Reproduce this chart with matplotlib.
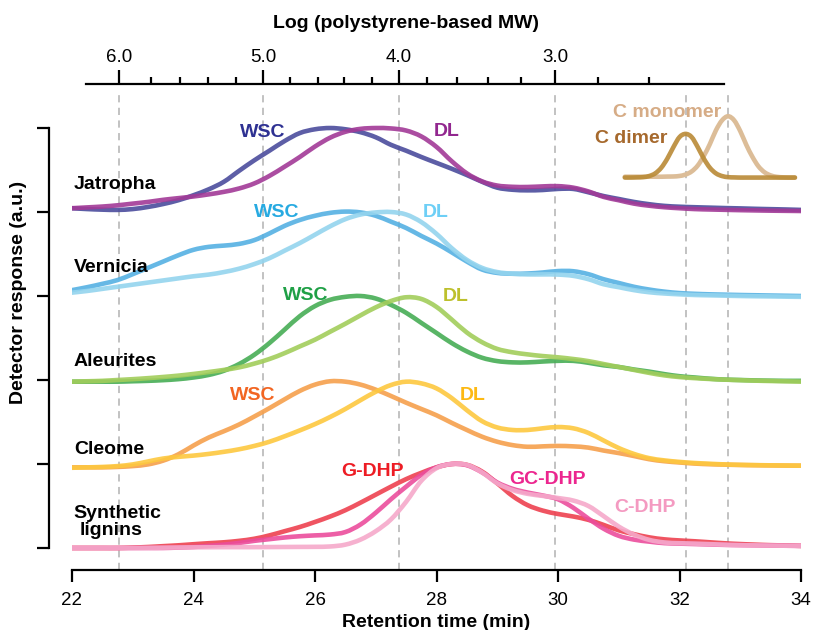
import matplotlib
matplotlib.use("Agg")
import matplotlib.pyplot as plt
from matplotlib.path import Path
from matplotlib.patches import PathPatch
import numpy as np

plt.rcParams["font.family"] = ["Liberation Sans", "DejaVu Sans"]

# retention time grid (min), 22 -> 34 every 0.25 min
t = np.arange(22.0, 34.001, 0.25)

# normalised detector traces
jat_wsc = [0.045, 0.035, 0.028, 0.025, 0.035, 0.06, 0.095, 0.14, 0.20, 0.27, 0.36, 0.49, 0.615,
           0.73, 0.845, 0.94, 0.985, 1.0, 0.985, 0.95, 0.89, 0.80, 0.73, 0.655, 0.585, 0.515, 0.44,
           0.36, 0.29, 0.265, 0.258, 0.262, 0.275, 0.275, 0.235, 0.19, 0.155, 0.12, 0.093, 0.073,
           0.063, 0.057, 0.052, 0.047, 0.043, 0.038, 0.034, 0.03, 0.025]
jat_dl = [0.045, 0.055, 0.065, 0.08, 0.10, 0.12, 0.145, 0.165, 0.185, 0.21, 0.24, 0.28, 0.34,
          0.43, 0.54, 0.655, 0.78, 0.885, 0.955, 0.99, 1.0, 0.995, 0.97, 0.9, 0.775, 0.605, 0.46,
          0.365, 0.315, 0.30, 0.298, 0.305, 0.308, 0.29, 0.245, 0.18, 0.14, 0.10, 0.075, 0.057,
          0.045, 0.035, 0.03, 0.026, 0.022, 0.019, 0.016, 0.014, 0.012]
ver_wsc = [0.07, 0.105, 0.145, 0.19, 0.26, 0.335, 0.41, 0.485, 0.55, 0.585, 0.60, 0.62, 0.665,
           0.745, 0.835, 0.905, 0.955, 0.99, 1.005, 0.995, 0.955, 0.885, 0.81, 0.715, 0.625, 0.52,
           0.41, 0.315, 0.275, 0.265, 0.268, 0.28, 0.297, 0.295, 0.26, 0.20, 0.155, 0.11, 0.077,
           0.052, 0.035, 0.026, 0.02, 0.016, 0.012, 0.009, 0.006, 0.003, 0.0]
ver_dl = [0.04, 0.06, 0.085, 0.11, 0.135, 0.16, 0.185, 0.21, 0.235, 0.255, 0.285, 0.325, 0.38,
          0.45, 0.54, 0.63, 0.73, 0.83, 0.915, 0.97, 0.995, 1.0, 0.97, 0.88, 0.74, 0.57, 0.43,
          0.335, 0.285, 0.265, 0.257, 0.257, 0.255, 0.24, 0.20, 0.14, 0.105, 0.07, 0.045, 0.03,
          0.02, 0.012, 0.008, 0.004, 0.0, -0.003, -0.005, -0.008, -0.01]
ale_wsc = [-0.02, -0.02, -0.02, -0.02, -0.015, -0.01, -0.002, 0.01, 0.03, 0.06, 0.11, 0.19, 0.30,
           0.44, 0.60, 0.76, 0.88, 0.955, 0.99, 1.0, 0.97, 0.895, 0.80, 0.68, 0.56, 0.44, 0.34,
           0.265, 0.225, 0.21, 0.21, 0.22, 0.228, 0.228, 0.205, 0.175, 0.155, 0.125, 0.10, 0.07,
           0.045, 0.03, 0.015, 0.005, 0.0, -0.005, -0.008, -0.01, -0.01]
ale_dl = [-0.02, -0.015, -0.01, 0.0, 0.01, 0.022, 0.036, 0.052, 0.072, 0.095, 0.12, 0.15, 0.195,
          0.25, 0.32, 0.40, 0.48, 0.575, 0.67, 0.77, 0.865, 0.94, 0.985, 0.965, 0.87, 0.72, 0.565,
          0.45, 0.37, 0.33, 0.305, 0.285, 0.27, 0.25, 0.225, 0.19, 0.155, 0.12, 0.085, 0.055,
          0.035, 0.022, 0.012, 0.004, -0.002, -0.008, -0.012, -0.016, -0.02]
cle_wsc = [-0.04, -0.04, -0.04, -0.035, -0.025, -0.005, 0.04, 0.115, 0.22, 0.315, 0.39, 0.47,
           0.565, 0.665, 0.77, 0.87, 0.945, 0.985, 0.98, 0.945, 0.885, 0.81, 0.73, 0.655, 0.58,
           0.49, 0.405, 0.325, 0.265, 0.225, 0.205, 0.21, 0.215, 0.21, 0.195, 0.16, 0.13, 0.095,
           0.057, 0.033, 0.018, 0.005, -0.003, -0.008, -0.012, -0.015, -0.017, -0.019, -0.02]
cle_dl = [-0.045, -0.04, -0.035, -0.025, -0.005, 0.03, 0.065, 0.085, 0.10, 0.12, 0.145, 0.175,
          0.215, 0.265, 0.33, 0.40, 0.475, 0.56, 0.655, 0.76, 0.86, 0.94, 0.98, 0.96, 0.9,
          0.785, 0.64, 0.51, 0.435, 0.405, 0.405, 0.425, 0.44, 0.425, 0.37, 0.28, 0.19, 0.12,
          0.07, 0.043, 0.025, 0.012, 0.003, -0.005, -0.01, -0.013, -0.016, -0.018, -0.02]
g_dhp = [0.0, 0.0, 0.0, 0.0, 0.005, 0.012, 0.022, 0.032, 0.045, 0.057, 0.068, 0.085, 0.11, 0.15,
         0.20, 0.25, 0.31, 0.375, 0.45, 0.54, 0.635, 0.73, 0.82, 0.895, 0.96, 1.0, 0.99, 0.91, 0.77,
         0.62, 0.51, 0.445, 0.405, 0.375, 0.335, 0.275, 0.21, 0.165, 0.127, 0.103, 0.09, 0.08,
         0.068, 0.056, 0.047, 0.04, 0.034, 0.03, 0.025]
gc_dhp = [0.0, 0.0, 0.0, 0.0, 0.0, 0.0, 0.0, 0.005, 0.012, 0.025, 0.04, 0.06, 0.085, 0.105, 0.125,
          0.14, 0.15, 0.16, 0.19, 0.28, 0.42, 0.58, 0.73, 0.87, 0.96, 1.0, 0.985, 0.90, 0.78, 0.705,
          0.66, 0.625, 0.58, 0.48, 0.35, 0.23, 0.145, 0.10, 0.076, 0.058, 0.052, 0.047, 0.042,
          0.037, 0.034, 0.031, 0.029, 0.027, 0.025]
c_dhp = [0.0, 0.0, 0.0, 0.0, 0.0, 0.002, 0.004, 0.006, 0.008, 0.009, 0.01, 0.01, 0.01, 0.011,
         0.012, 0.013, 0.014, 0.018, 0.04, 0.10, 0.20, 0.34, 0.55, 0.80, 0.95, 1.0, 0.99, 0.90,
         0.77, 0.69, 0.645, 0.62, 0.595, 0.565, 0.50, 0.38, 0.255, 0.16, 0.097, 0.066, 0.057,
         0.052, 0.046, 0.039, 0.034, 0.031, 0.029, 0.027, 0.025]

# model compounds (inset, absolute y units), 31.1 -> 33.9 every 0.1 min
t_c = np.arange(31.1, 33.901, 0.1)
c_dimer = [4.41, 4.41, 4.412, 4.415, 4.428, 4.46, 4.527, 4.636, 4.773, 4.892, 4.93, 4.892, 4.773,
           4.636, 4.527, 4.46, 4.428, 4.415, 4.412, 4.41, 4.41, 4.41, 4.41, 4.41, 4.41, 4.41,
           4.41, 4.41, 4.41]
c_monomer = [4.42, 4.42, 4.42, 4.42, 4.42, 4.42, 4.42, 4.422, 4.423, 4.429, 4.446, 4.483, 4.553,
             4.667, 4.809, 4.973, 5.091, 5.14, 5.091, 4.963, 4.799, 4.657, 4.543, 4.473, 4.436,
             4.419, 4.413, 4.41, 4.41]

# top axis: log MW calibration positions on the retention time scale
mw_major_t = [22.78, 25.15, 27.38, 29.95]
mw_major_lab = ["6.0", "5.0", "4.0", "3.0"]
mw_minor_t = [23.30, 23.78, 24.24, 24.70, 25.59, 26.05, 26.48, 26.94,
              27.84, 28.34, 28.85, 29.39, 30.66, 31.50]
ref_lines = [22.78, 25.15, 27.38, 29.95, 32.1, 32.8]

traces = [
    # (data, offset, line colour)
    (jat_wsc, 4, "#4B4C9D"), (jat_dl, 4, "#A23A97"),
    (ver_wsc, 3, "#55B1E3"), (ver_dl, 3, "#94D4EE"),
    (ale_wsc, 2, "#47AD55"), (ale_dl, 2, "#A2CD5B"),
    (cle_wsc, 1, "#F6A04C"), (cle_dl, 1, "#FDC83F"),
    (g_dhp, 0, "#EE4150"), (gc_dhp, 0, "#EB4D9C"), (c_dhp, 0, "#F5A9CA"),
]


def smooth_trace(ax, x, y, color, alpha=0.9):
    # draw a smooth curve through the points (Catmull-Rom as cubic Bezier)
    x = np.asarray(x, float)
    y = np.asarray(y, float)
    p = np.column_stack([x, y])
    ext = np.vstack([p[0], p, p[-1]])
    verts = [p[0]]
    codes = [Path.MOVETO]
    for i in range(len(p) - 1):
        p0, p1, p2, p3 = ext[i], ext[i + 1], ext[i + 2], ext[i + 3]
        verts += [p1 + (p2 - p0) / 6, p2 - (p3 - p1) / 6, p2]
        codes += [Path.CURVE4] * 3
    ax.add_patch(PathPatch(Path(verts, codes), fill=False, edgecolor=color, lw=3.3,
                           alpha=alpha, capstyle="round", joinstyle="round", zorder=3))


W, H = 813, 630
fig = plt.figure(figsize=(W / 100, H / 100), dpi=100)
ax = fig.add_axes([72 / W, 60 / H, 729 / W, 486 / H])
ax.set_xlim(22, 34)
ax.set_ylim(-0.262, 5.524)

ax.vlines(ref_lines, -0.262, 5.45, colors="#BDBDBD", linestyles=(0, (4, 3)), lw=1.3, zorder=1)

for data, off, col in traces:
    smooth_trace(ax, t, np.array(data) + off, col)
smooth_trace(ax, t_c, c_monomer, "#DCBD98", alpha=1.0)
smooth_trace(ax, t_c, c_dimer, "#B98A36")

# sample names
bold = dict(fontsize=14, fontweight="bold")
for txt, x, y in [("Jatropha", 22.03, 4.274), ("Vernicia", 22.03, 3.289),
                  ("Aleurites", 22.03, 2.167), ("Cleome", 22.03, 1.119),
                  ("Synthetic", 22.03, 0.357), ("lignins", 22.13, 0.155)]:
    ax.text(x, y, txt, ha="left", va="baseline", color="black", **bold)

for txt, x, y, col in [
        ("WSC", 25.14, 4.893, "#2E3192"), ("DL", 28.17, 4.905, "#92278F"),
        ("WSC", 25.37, 3.937, "#27AAE1"), ("DL", 27.99, 3.937, "#6DCFF6"),
        ("WSC", 25.85, 2.952, "#1FA046"), ("DL", 28.32, 2.944, "#BDC02C"),
        ("WSC", 24.98, 1.762, "#F26522"), ("DL", 28.59, 1.762, "#FDB913"),
        ("G-DHP", 26.94, 0.857, "#ED1C24"), ("GC-DHP", 29.83, 0.762, "#EC268F"),
        ("C-DHP", 31.43, 0.425, "#F49AC1"),
        ("C monomer", 31.79, 5.135, "#D6AC86"), ("C dimer", 31.2, 4.818, "#A6692D")]:
    ax.text(x, y, txt, ha="center", va="baseline", color=col, **bold)

# axes styling
for s in ["top", "right"]:
    ax.spines[s].set_visible(False)
ax.spines["left"].set_position(("outward", 16.6))
ax.spines["left"].set_bounds(0, 5)
ax.spines["left"].set_linewidth(1.6)
ax.spines["bottom"].set_linewidth(1.6)
ax.set_yticks(range(6))
ax.set_yticklabels([])
ax.set_xticks(range(22, 35, 2))
ax.tick_params(axis="y", length=9, width=1.6)
ax.tick_params(axis="x", length=8.6, width=1.6, pad=7, labelsize=13.5)

ax2 = ax.twiny()
ax2.set_xlim(22, 34)
for s in ["bottom", "left", "right"]:
    ax2.spines[s].set_visible(False)
ax2.spines["top"].set_bounds(22.23, 32.73)
ax2.spines["top"].set_linewidth(1.6)
ax2.set_xticks(mw_major_t)
ax2.set_xticklabels(mw_major_lab)
ax2.set_xticks(mw_minor_t, minor=True)
ax2.tick_params(axis="x", which="major", length=10, width=1.6, pad=3, labelsize=13.5)
ax2.tick_params(axis="x", which="minor", length=5, width=1.6)

fig.text(405.5 / W, 1 - 27.5 / H, "Log (polystyrene-based MW)", ha="center", va="baseline", **bold)
fig.text(436.5 / W, 1 - 627 / H, "Retention time (min)", ha="center", va="baseline", **bold)
fig.text(18.5 / W, 1 - 292 / H, "Detector response (a.u.)", ha="center", va="center",
         rotation=90, **bold)

fig.savefig("out.png", dpi=100)
